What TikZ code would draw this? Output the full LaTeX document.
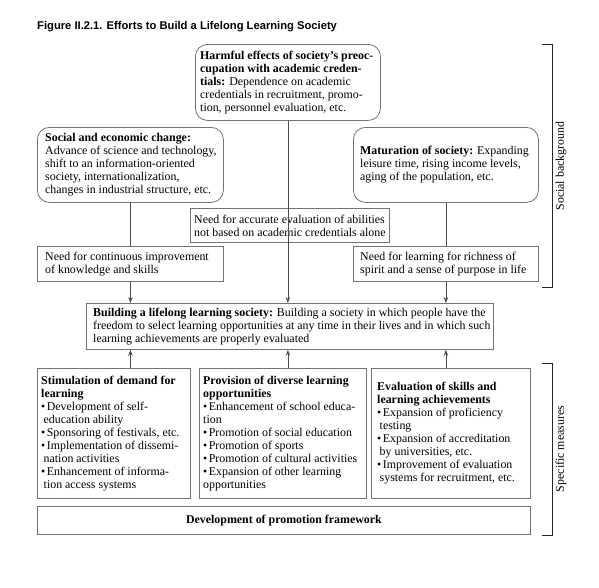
\documentclass[tikz,border=0pt]{standalone}
\usepackage{fontspec}
\setmainfont{Liberation Serif}
\newfontfamily\titlefont{Liberation Sans}
\usetikzlibrary{arrows.meta}
\begin{document}
\begin{tikzpicture}[x=1pt,y=-1pt,
  frame/.style={draw=black!55,line width=0.8pt,inner sep=0pt,anchor=north west},
  rbox/.style={frame,rounded corners=12pt},
  sbox/.style={frame},
  txt/.style={inner sep=0pt,align=left,anchor=west,font=\fontsize{11.9}{13}\selectfont},
  conn/.style={draw=black!70,line width=0.8pt},
  arr/.style={conn,-{Stealth[length=6pt,width=4.5pt]}},
  brk/.style={draw=black!85,line width=0.9pt},
  side/.style={inner sep=0pt,rotate=90,font=\fontsize{11.9}{13}\selectfont}]
\useasboundingbox (0,0) rectangle (599,587);
\newcommand{\bul}{\textbullet\kern1.5pt}
\newcommand{\ind}{\hspace*{2.5pt}}
% title
\node[inner sep=0pt,anchor=base west,font=\titlefont\bfseries\fontsize{11.2}{13}\selectfont] (title) at (37,29.5) {Figure II.2.1. Efforts to Build a Lifelong Learning Society};
% top boxes
\node[rbox,minimum width=185,minimum height=76] (harm) at (195,44) {};
\node[txt] (harmT) at ([xshift=5]harm.west) {\textbf{Harmful effects of society’s preoc-}\\\textbf{cupation with academic creden-}\\\textbf{tials:} Dependence on academic\\credentials in recruitment, promo-\\tion, personnel evaluation, etc.};
\node[rbox,minimum width=186,minimum height=75] (soc) at (37,127) {};
\node[txt] (socT) at ([xshift=8]soc.west) {\textbf{Social and economic change:}\\Advance of science and technology,\\shift to an information-oriented\\society, internationalization,\\changes in industrial structure, etc.};
\node[rbox,minimum width=185,minimum height=75] (mat) at (353,127) {};
\node[txt] (matT) at ([xshift=7]mat.west) {\textbf{Maturation of society:} Expanding\\leisure time, rising income levels,\\aging of the population, etc.};
% needs
\node[sbox,minimum width=199,minimum height=34] (acc) at (190,208) {};
\node[txt] (accT) at ([xshift=4]acc.west) {Need for accurate evaluation of abilities\\not based on academic credentials alone};
\node[sbox,minimum width=186,minimum height=35] (needc) at (37,246) {};
\node[txt] (needcT) at ([xshift=8]needc.west) {Need for continuous improvement\\of knowledge and skills};
\node[sbox,minimum width=185,minimum height=35] (needr) at (353,246) {};
\node[txt] (needrT) at ([xshift=7]needr.west) {Need for learning for richness of\\spirit and a sense of purpose in life};
% building
\node[sbox,minimum width=407,minimum height=46] (build) at (86,303) {};
\node[txt] (buildT) at ([xshift=7]build.west) {\textbf{Building a lifelong learning society:} Building a society in which people have the\\freedom to select learning opportunities at any time in their lives and in which such\\learning achievements are properly evaluated};
% measures
\node[sbox,minimum width=153,minimum height=130] (stim) at (37,368) {};
\node[txt] (stimT) at ([xshift=4]stim.west) {\textbf{Stimulation of demand for}\\\textbf{learning}\\\bul Development of self-\\\ind education ability\\\bul Sponsoring of festivals, etc.\\\bul Implementation of dissemi-\\\ind nation activities\\\bul Enhancement of informa-\\\ind tion access systems};
\node[sbox,minimum width=167,minimum height=130] (prov) at (199,368) {};
\node[txt] (provT) at ([xshift=4]prov.west) {\textbf{Provision of diverse learning}\\\textbf{opportunities}\\\bul Enhancement of school educa-\\tion\\\bul Promotion of social education\\\bul Promotion of sports\\\bul Promotion of cultural activities\\\bul Expansion of other learning\\opportunities};
\node[sbox,minimum width=159,minimum height=130] (eval) at (371,368) {};
\node[txt] (evalT) at ([xshift=6]eval.west) {\textbf{Evaluation of skills and}\\\textbf{learning achievements}\\\bul Expansion of proficiency\\\ind testing\\\bul Expansion of accreditation\\\ind by universities, etc.\\\bul Improvement of evaluation\\\ind systems for recruitment, etc.};
\node[sbox,minimum width=493,minimum height=28] (dev) at (37,506) {};
\node[inner sep=0pt,font=\fontsize{11.9}{13}\selectfont\bfseries] (devT) at (dev.center) {Development of promotion framework};
% connectors
\draw[arr] (harm.south) -- (harm.south |- build.north);
\draw[conn] (soc.south) -- (needc.north);
\draw[arr] (needc.south) -- (needc.south |- build.north);
\draw[conn] (mat.south) -- (needr.north);
\draw[arr] (needr.south) -- (needr.south |- build.north);
\draw[arr] (stim.north -| soc.south) -- (build.south -| soc.south);
\draw[arr] (prov.north -| harm.south) -- (build.south -| harm.south);
\draw[arr] (eval.north -| mat.south) -- (build.south -| mat.south);
% brackets
\draw[brk] (542,44) -- (552,44) -- (552,287) -- (542,287);
\node[side] (sbg) at (561,166) {Social background};
\draw[brk] (542,363) -- (552,363) -- (552,535) -- (542,535);
\node[side] (spm) at (561,449) {Specific measures};
\end{tikzpicture}
\end{document}
